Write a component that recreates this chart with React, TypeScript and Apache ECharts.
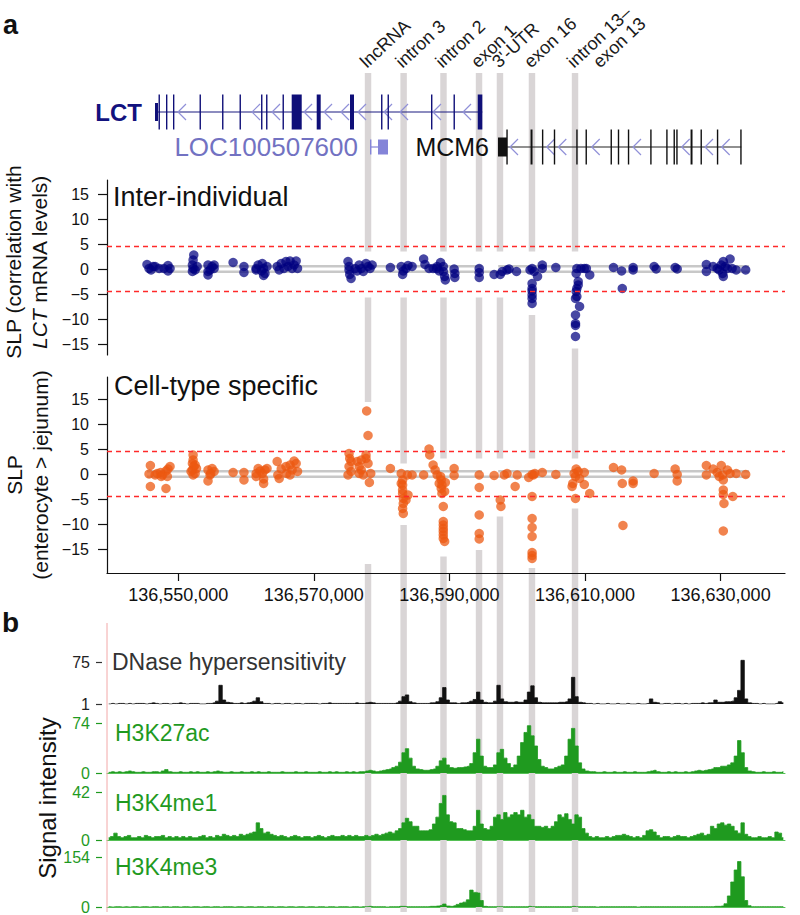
import React, { useEffect, useRef } from "react";
import * as echarts from "echarts";

const FONT = "'Liberation Sans', Arial, Helvetica, sans-serif";

// ---------- genomic window (kb) ----------
const X_MIN = 136539.5;
const X_MAX = 136639.5;
const xTickKb = [136550, 136570, 136590, 136610, 136630];
const slpTicks = [-15, -10, -5, 0, 5, 10, 15];
const slpThreshold = 4.5;
const geneBodyOffset = 0.55;

// ---------- highlighted regions ----------
const bandKb = [136578.0, 136583.25, 136589.13, 136594.37, 136597.46, 136602.18, 136608.53];
const bandNames = ["lncRNA", "intron 3", "intron 2", "exon 1", "3'-UTR", "exon 16", "intron 13–\nexon 13"];
const bandGapInter = [[3.5, -5.7], [3.5, -5.7], [3.5, -5.7], [3.5, -5.7], [3.5, -5.7], [3.5, -9.2], [3.5, -15.9]];
const bandGapCell = [[14.4, -18.0], [2.1, -10.2], [3.1, -16.5], [3.1, -15.2], [3.1, -8.5], [3.1, -18.8], [3.1, -6.9]];

// gene-body guide lines under the points
const geneBodyUpperKb = [[136545.4, 136594.8], [136597.2, 136634.2]];
const geneBodyLowerKb = [[136545.4, 136634.2]];

// ---------- gene models (kb; third field 1 = coding exon, 0 = UTR) ----------
const lctExons = [
  [136546.58, 136547.02, 0], [136547.10, 136547.25, 1], [136548.20, 136548.35, 1], [136549.23, 136549.38, 1],
  [136553.15, 136553.30, 1], [136556.47, 136556.62, 1], [136559.05, 136559.20, 1], [136562.22, 136562.37, 1],
  [136562.96, 136563.11, 1], [136565.39, 136565.54, 1], [136566.74, 136568.22, 1], [136570.43, 136571.02, 1],
  [136575.34, 136575.93, 1], [136579.92, 136580.07, 1], [136580.88, 136581.03, 1], [136587.29, 136587.44, 1],
  [136590.61, 136590.76, 1], [136594.18, 136594.86, 1],
];
const lctChevrons = [136549.97, 136560.89, 136563.84, 136568.56, 136571.51, 136574.01, 136576.52, 136580.36, 136582.72, 136587.58, 136592.01];
const locExons = [[136578.29, 136578.50, 0], [136579.47, 136580.95, 0]];
const locChevrons: number[] = [];
const mcm6Exons = [
  [136597.17, 136598.50, 0], [136598.40, 136598.55, 1], [136601.97, 136602.26, 1], [136603.65, 136603.80, 1],
  [136605.40, 136605.55, 1], [136608.71, 136608.86, 1], [136610.08, 136610.23, 1], [136613.77, 136613.92, 1],
  [136614.84, 136614.99, 1], [136616.32, 136616.47, 1], [136619.62, 136619.77, 1], [136621.98, 136622.13, 1],
  [136623.06, 136623.21, 1], [136623.46, 136623.61, 1], [136625.57, 136625.86, 1], [136627.04, 136627.19, 1],
  [136629.45, 136629.60, 1], [136632.90, 136633.05, 1],
];
const mcm6Chevrons = [136598.94, 136604.35, 136606.06, 136610.99, 136617.08, 136624.26, 136627.70, 136630.16];

// ---------- SLP: inter-individual (kb, SLP) ----------
const interData = [
  [136545.4, 0.9], [136545.7, 0.1], [136546.0, -0.2], [136546.3, 0.5], [136546.6, 0.5], [136547.2, 0.1], [136547.9, 0.1], [136548.5, 0.7], [136548.8, 0.1], [136548.5, -0.4],
  [136552.3, 2.8], [136552.2, 1.8], [136552.1, 0.8], [136552.2, 0.1], [136552.1, -0.5], [136552.8, 0.5], [136552.5, -0.2],
  [136554.4, 0.8], [136554.4, -0.5], [136554.4, -1.2], [136555.0, 0.5], [136555.3, 0.8], [136554.7, -0.2], [136555.3, 0.1],
  [136558.1, 1.3], [136559.7, 0.5], [136559.7, -0.7],
  [136561.5, 0.1], [136561.8, 0.8], [136562.4, 1.1], [136562.6, 0.1], [136562.8, -0.9], [136562.3, -0.4], [136563.1, 0.5], [136562.6, -1.3], [136561.5, -0.2],
  [136564.6, 0.5], [136564.9, -0.2], [136565.2, 1.1], [136565.9, 1.5], [136566.2, 0.5], [136566.5, 1.6], [136567.1, 0.8], [136567.4, 1.6], [136567.6, 0.1], [136566.8, 0.1], [136565.6, 0.1],
  [136575.05, 1.5], [136575.2, 0.5], [136575.2, -0.2], [136575.3, -1.1], [136575.5, -1.9], [136576.1, 0.1], [136576.7, 0.8], [136577.0, 0.1], [136577.7, 1.1], [136578.0, 0.5], [136578.3, 0.1], [136577.3, -0.5], [136576.4, -0.4], [136578.6, 0.8],
  [136581.3, 0.3],
  [136582.9, 0.5], [136583.2, -0.4], [136583.6, 0.1], [136583.9, 0.7], [136584.5, 0.5], [136583.1, -1.1],
  [136586.2, 2.0], [136586.4, 0.9], [136587.0, 0.1], [136587.6, 0.1], [136588.2, 0.5], [136588.7, 1.3], [136589.1, 0.5], [136589.1, -0.5], [136589.3, -1.5], [136589.4, -2.2], [136590.7, 0], [136590.8, -0.9], [136590.8, -1.7], [136588.5, -0.4], [136588.1, 0.1],
  [136594.4, 0.1], [136594.4, -0.7], [136594.4, -1.7],
  [136596.6, -1.1], [136597.5, -1.1], [136597.8, -0.5], [136598.5, -0.2], [136598.8, 0], [136599.9, -0.5], [136601.9, -0.2], [136602.2, 0.1], [136602.5, -0.5], [136603.0, -1.5], [136603.7, 0.8], [136603.7, 0.1], [136605.7, 0.3],
  [136602.2, -2.9], [136602.2, -3.9], [136602.2, -4.4], [136602.2, -5.2], [136602.2, -5.9], [136602.2, -6.9],
  [136608.8, 0.1], [136609.4, 0.1], [136608.7, -0.9], [136609.0, -2.5], [136609.0, -3.2], [136608.8, -3.9], [136608.7, -4.5], [136608.8, -5.5], [136608.6, -5.9], [136609.2, -7.5], [136608.6, -9.2], [136608.6, -10.9], [136608.6, -11.3], [136608.6, -13.5], [136609.9, 0.1], [136610.7, -1.2], [136610.2, 0.1],
  [136614.2, 0.3], [136615.4, -0.4], [136615.5, -3.9], [136617.1, 0.3], [136617.1, -0.2], [136620.2, 0.5], [136620.5, 0], [136623.3, 0.3], [136623.6, 0],
  [136627.9, 0.9], [136627.9, -0.5], [136628.9, 0.5], [136629.5, 0.1], [136629.8, -0.2], [136630.1, 0.8], [136630.4, 1.5], [136630.7, 0.5], [136630.4, -1.5], [136631.0, 0.1], [136631.4, 2.0], [136631.7, 0.1], [136632.3, -0.2], [136633.7, -0.2], [136630.3, -0.9],
];

// ---------- SLP: cell-type specific (kb, SLP) ----------
const cellData = [
  [136545.9, 1.7], [136545.7, 0], [136545.9, -2.5], [136546.6, -0.2], [136546.9, 0.1], [136547.4, 0.3], [136547.7, -0.2], [136548.2, 0.6], [136548.2, -2.9], [136548.5, 1.0], [136548.8, 1.5], [136548.4, -0.5], [136547.5, -0.5],
  [136552.2, 3.8], [136552.2, 2.8], [136552.1, 2.1], [136552.3, 1.5], [136552.1, 0.8], [136552.2, -0.2], [136552.5, 0.1], [136552.7, 1.1], [136551.9, 0.5], [136552.5, 1.8],
  [136554.4, 0.8], [136554.4, -1.4], [136554.7, -0.2], [136555.0, 1.1], [136555.3, 0.5], [136554.8, 0.1],
  [136558.1, 0.3], [136559.7, 0.3], [136559.7, -1.2],
  [136561.5, 0.1], [136561.8, 1.1], [136562.1, 0.6], [136562.4, 0.1], [136562.6, -1.0], [136562.6, -1.9], [136562.8, 0.8], [136563.1, 1.1], [136561.5, -0.5],
  [136564.6, 2.5], [136564.7, -0.2], [136564.9, -0.9], [136565.2, 1.0], [136565.9, 1.5], [136566.0, 0.1], [136566.5, 1.8], [136566.8, 0.8], [136567.1, 2.6], [136567.4, 2.1], [136567.6, 0.5], [136566.5, -0.2],
  [136575.2, 4.1], [136575.3, 3.1], [136575.5, 2.5], [136575.2, 1.5], [136575.05, -0.2], [136575.5, 0.5], [136576.4, 2.5], [136576.7, 1.5], [136577.0, 0.8], [136577.3, -0.2], [136577.7, 3.8], [136577.7, 3.1], [136577.8, 12.6], [136578.0, 7.7], [136578.0, 2.1], [136578.2, -1.7], [136578.4, 0.1], [136577.0, 2.8], [136576.7, 0.1],
  [136581.3, 1.1],
  [136582.9, 0.1], [136583.1, -1.2], [136583.1, -2.2], [136583.1, -3.2], [136583.1, -3.9], [136583.2, -4.9], [136583.2, -5.9], [136583.1, -6.9], [136583.2, -7.9], [136583.6, -5.2], [136583.8, -0.2], [136583.9, -4.2], [136584.5, -0.2], [136582.9, -1.9],
  [136586.2, -0.2], [136587.0, 5.0], [136587.1, 3.8], [136587.6, 1.8], [136587.9, 0.8], [136588.2, -0.2], [136588.7, -0.5], [136588.8, -1.2], [136588.5, -1.9], [136588.8, -2.9], [136588.9, -3.9], [136589.1, -6.5], [136589.1, -9.5], [136589.1, -10.2], [136589.1, -10.9], [136589.1, -11.5], [136589.1, -12.2], [136589.1, -12.9], [136589.3, -13.5], [136589.4, -1.7], [136590.7, 1.1], [136590.7, -0.3], [136588.9, -2.2], [136589.3, -3.5],
  [136594.4, -0.2], [136594.4, -2.7], [136594.4, -8.2], [136594.4, -11.9], [136594.4, -13.0],
  [136596.6, -0.3], [136597.5, -5.2], [136597.6, -6.5], [136598.1, -0.2], [136598.5, 0.1], [136599.7, -2.5], [136600.0, -0.2], [136601.7, -0.7], [136602.2, -0.1], [136602.2, -4.5], [136602.2, -8.9], [136602.2, -10.7], [136602.2, -12.5], [136602.2, -15.7], [136602.2, -16.3], [136602.2, -16.9], [136602.4, -0.2], [136602.6, 0.1], [136603.7, 0.3], [136605.7, -0.1],
  [136608.4, 0.1], [136608.6, -0.5], [136608.7, 1.0], [136609.0, 0.5], [136608.2, -1.9], [136608.1, -2.5], [136608.6, -4.9], [136609.9, 0.3], [136609.9, -2.1], [136610.7, -3.9], [136609.2, -0.9],
  [136614.2, 1.3], [136615.4, 0.8], [136615.5, -1.9], [136617.1, -1.4], [136617.1, -1.9], [136615.6, -10.3], [136620.2, 0.1], [136623.3, 1.0], [136623.6, -0.1], [136623.6, -1.4],
  [136627.9, 1.7], [136627.9, -0.2], [136628.9, 1.0], [136629.5, 0.3], [136630.1, 1.7], [136630.3, -0.2], [136630.4, -1.2], [136630.4, -3.2], [136630.4, -4.1], [136630.5, -5.9], [136630.4, -11.4], [136631.0, 0.8], [136631.4, 0.1], [136631.8, -4.5], [136632.3, 0.1], [136633.7, -0.1], [136629.8, -0.5],
];

// ---------- signal tracks: 0.5 kb bins starting at X_MIN ----------
const binSizeKb = 0.5;
const dnase = [
  1, 2, 1, 2, 2, 1, 2, 1, 2, 2, 2, 1, 2, 3, 2, 1, 2, 2, 1, 2,
  2, 3, 2, 1, 2, 2, 2, 1, 1, 2, 2, 3, 6, 34, 8, 4, 3, 2, 2, 3,
  2, 3, 4, 6, 12, 5, 2, 2, 1, 2, 2, 1, 2, 2, 1, 2, 2, 1, 2, 2,
  2, 2, 1, 2, 2, 3, 2, 2, 2, 2, 2, 2, 2, 3, 2, 2, 3, 4, 3, 2,
  2, 2, 2, 2, 2, 3, 6, 14, 17, 5, 3, 2, 2, 2, 2, 3, 3, 5, 12, 30,
  8, 3, 3, 2, 3, 3, 4, 6, 9, 22, 8, 4, 3, 3, 6, 34, 10, 5, 4, 4,
  5, 4, 4, 8, 22, 33, 12, 4, 3, 3, 3, 3, 3, 4, 4, 5, 10, 48, 14, 4,
  3, 2, 2, 1, 2, 1, 1, 2, 1, 1, 2, 1, 1, 2, 1, 1, 2, 1, 1, 2,
  10, 4, 3, 1, 2, 2, 1, 2, 2, 1, 2, 1, 2, 2, 2, 3, 2, 3, 3, 8,
  4, 4, 5, 5, 6, 12, 25, 78, 10, 3, 2, 2, 1, 2, 1, 1, 1, 2, 5, 3,
];
const h3k27ac = [
  1, 2, 1, 2, 1, 2, 3, 2, 1, 1, 2, 1, 1, 2, 2, 1, 3, 5, 2, 1,
  1, 2, 1, 1, 2, 1, 2, 1, 1, 2, 1, 2, 3, 2, 1, 1, 2, 1, 1, 2,
  1, 1, 2, 1, 2, 1, 1, 2, 1, 1, 1, 2, 1, 1, 1, 2, 1, 1, 2, 1,
  1, 1, 2, 1, 1, 2, 1, 2, 1, 1, 2, 1, 2, 1, 2, 2, 3, 4, 3, 2,
  3, 4, 5, 6, 8, 10, 16, 30, 36, 22, 10, 6, 5, 4, 4, 5, 6, 10, 18, 22,
  12, 8, 7, 8, 8, 9, 10, 14, 30, 50, 25, 10, 8, 8, 12, 30, 35, 22, 14, 8,
  12, 25, 45, 60, 70, 55, 40, 20, 10, 8, 6, 6, 8, 10, 12, 25, 50, 66, 40, 15,
  6, 3, 2, 2, 1, 1, 2, 1, 1, 2, 1, 1, 2, 1, 1, 2, 1, 1, 1, 2,
  3, 4, 2, 1, 1, 2, 1, 2, 1, 1, 2, 1, 2, 3, 4, 3, 4, 5, 6, 8,
  8, 10, 10, 12, 15, 25, 48, 30, 8, 3, 2, 1, 1, 2, 1, 1, 2, 1, 1, 2,
];
const h3k4me1 = [
  2, 3, 6, 3, 2, 3, 4, 2, 2, 3, 2, 4, 3, 2, 3, 3, 4, 2, 3, 2,
  3, 2, 3, 2, 3, 2, 2, 3, 4, 2, 3, 2, 4, 3, 5, 4, 3, 4, 3, 5,
  4, 5, 6, 7, 15, 10, 6, 7, 5, 4, 3, 4, 3, 2, 3, 4, 3, 2, 3, 3,
  2, 3, 4, 3, 2, 3, 4, 3, 3, 4, 3, 4, 3, 4, 3, 3, 4, 3, 4, 5,
  4, 5, 6, 7, 6, 8, 10, 15, 19, 16, 12, 12, 8, 8, 8, 9, 14, 20, 32, 39,
  22, 16, 15, 10, 10, 9, 8, 8, 12, 26, 14, 10, 9, 12, 20, 22, 18, 24, 20, 22,
  24, 22, 26, 20, 22, 18, 12, 12, 11, 12, 10, 12, 16, 22, 20, 23, 18, 14, 22, 20,
  10, 6, 3, 2, 3, 2, 2, 3, 2, 3, 4, 4, 5, 4, 3, 2, 3, 2, 4, 8,
  9, 7, 4, 2, 3, 3, 2, 3, 4, 3, 3, 2, 3, 4, 5, 6, 4, 5, 12, 10,
  14, 15, 13, 14, 12, 8, 6, 15, 5, 3, 2, 2, 3, 2, 2, 3, 2, 7, 6, 2,
];
const h3k4me3 = [
  1, 0, 1, 1, 0, 1, 0, 1, 1, 0, 1, 1, 0, 1, 1, 0, 1, 1, 0, 1,
  1, 0, 1, 1, 0, 1, 1, 0, 1, 1, 0, 1, 1, 0, 1, 1, 1, 0, 1, 1,
  0, 1, 1, 0, 1, 1, 0, 1, 1, 0, 1, 1, 0, 1, 1, 0, 1, 1, 0, 1,
  1, 0, 1, 1, 0, 1, 1, 0, 1, 1, 1, 0, 1, 1, 0, 1, 1, 2, 1, 1,
  1, 1, 0, 1, 1, 1, 2, 2, 1, 1, 1, 1, 1, 1, 1, 2, 2, 3, 5, 9,
  3, 2, 4, 8, 12, 15, 22, 52, 45, 43, 20, 2, 1, 1, 1, 1, 1, 1, 1, 1,
  1, 1, 1, 1, 2, 1, 1, 1, 1, 1, 1, 1, 1, 1, 1, 1, 1, 2, 1, 1,
  1, 1, 1, 1, 0, 1, 1, 1, 1, 1, 1, 1, 1, 1, 1, 1, 0, 1, 1, 1,
  1, 1, 1, 1, 1, 1, 1, 1, 1, 1, 1, 1, 1, 1, 1, 1, 1, 1, 1, 2,
  2, 3, 10, 34, 77, 114, 140, 93, 20, 4, 1, 1, 1, 1, 1, 1, 1, 1, 1, 1,
];
const trackNames = ["DNase hypersensitivity", "H3K27ac", "H3K4me1", "H3K4me3"];
const trackValues = [dnase, h3k27ac, h3k4me1, h3k4me3];
const trackTicks = [[1, 75], [0, 74], [0, 42], [0, 154]];

// ---------- layout / style (pixels) ----------
const GL = 107;
const GR = 15;
const GREEN = "#1f9a1f";
const trackLayout = [
  { top: 659.2, height: 44.8, min: 1, max: 80, color: "#111", label: "#333", labelY: 661.7, labelX: 112, fontSize: 23 },
  { top: 723, height: 50, min: 0, max: 74, color: GREEN, label: GREEN, labelY: 733.3, labelX: 115, fontSize: 23 },
  { top: 792, height: 48, min: 0, max: 42, color: GREEN, label: GREEN, labelY: 803, labelX: 115, fontSize: 23 },
  { top: 857, height: 50, min: 0, max: 154, color: GREEN, label: GREEN, labelY: 866.7, labelX: 115, fontSize: 23 },
];

const genes = [
  { name: "LCT", row: 2, exons: lctExons, chevrons: lctChevrons, lineColor: "#1b1b80", exonColor: "#0f0f78", chev: "#9090d8", labelColor: "#12127e", weight: "bold", size: 24, gap: 13, utrHalf: 9 },
  { name: "LOC100507600", row: 1, exons: locExons, chevrons: locChevrons, lineColor: "#8484d8", exonColor: "#8484d8", chev: "#9090d8", labelColor: "#7272c2", weight: "normal", size: 26, gap: 12, utrHalf: 7.5 },
  { name: "MCM6", row: 1, exons: mcm6Exons, chevrons: mcm6Chevrons, lineColor: "#222", exonColor: "#111", chev: "#9090d8", labelColor: "#111", weight: "normal", size: 25, gap: 9, utrHalf: 9.5 },
];

const fmtBp = (v: number) => String(Math.round(v * 1000)).replace(/\B(?=(\d{3})+(?!\d))/g, ",");
const fmtMinus = (v: number) => String(v).replace("-", "\u2212");

function renderBand(params: any, api: any) {
  const i = params.dataIndex;
  const kb = bandKb[i];
  const top = api.coord([kb, 1]);
  const bot = api.coord([kb, 0]);
  const w = api.size([0.95, 0])[0];
  const children: any[] = [
    { type: "rect", shape: { x: top[0] - w / 2, y: top[1], width: w, height: bot[1] - top[1] }, style: { fill: "#d9d5d6" } },
  ];
  bandNames[i].split("\n").forEach((t, k) => {
    children.push({
      type: "text",
      x: top[0] + 1 + k * 26,
      y: top[1] - 2,
      rotation: 0.75,
      style: { text: t, fill: "#1a1a1a", fontSize: 18, fontFamily: FONT, align: "left", verticalAlign: "bottom" },
    });
  });
  return { type: "group", children };
}

function renderGap(gaps: number[][]) {
  return (params: any, api: any) => {
    const i = params.dataIndex;
    const a = api.coord([bandKb[i] - 0.6, gaps[i][0]]);
    const b = api.coord([bandKb[i] + 0.6, gaps[i][1]]);
    return { type: "rect", shape: { x: a[0], y: a[1], width: b[0] - a[0], height: b[1] - a[1] }, style: { fill: "#fff" } };
  };
}

function renderGene(params: any, api: any) {
  const g = genes[params.dataIndex];
  const y = api.coord([X_MIN, g.row])[1];
  const start = Math.min(...g.exons.map((e) => e[0]));
  const end = Math.max(...g.exons.map((e) => e[1]));
  const xs = api.coord([start, g.row])[0];
  const xe = api.coord([end, g.row])[0];
  const children: any[] = [
    { type: "line", shape: { x1: xs, y1: y, x2: xe, y2: y }, style: { stroke: g.lineColor, lineWidth: 1.2 } },
  ];
  g.chevrons.forEach((c) => {
    const cx = api.coord([c, g.row])[0];
    children.push({
      type: "polyline",
      shape: { points: [[cx + 8, y - 8], [cx, y], [cx + 8, y + 8]] },
      style: { stroke: g.chev, lineWidth: 1.2, fill: null },
    });
  });
  g.exons.forEach((e) => {
    const x1 = api.coord([e[0], g.row])[0];
    const x2 = api.coord([e[1], g.row])[0];
    const h = e[2] ? 17.5 : g.utrHalf;
    children.push({ type: "rect", shape: { x: x1, y: y - h, width: Math.max(1.4, x2 - x1), height: 2 * h }, style: { fill: g.exonColor } });
  });
  children.push({
    type: "text",
    x: xs - g.gap,
    y: y,
    style: { text: g.name, fill: g.labelColor, fontSize: g.size, fontWeight: g.weight, fontFamily: FONT, align: "right", verticalAlign: "middle" },
  });
  return { type: "group", children };
}

function buildOption(): any {
  const grids: any[] = [
    { left: GL, right: GR, top: 73, bottom: 3 },
    { left: GL, right: GR, top: 77, height: 105 },
    { left: GL, right: GR, top: 180, height: 175 },
    { left: GL, right: GR, top: 377, height: 196 },
    ...trackLayout.map((t) => ({ left: GL, right: GR, top: t.top, height: t.height })),
  ];
  const xAxes: any[] = grids.map((_, i) => ({ type: "value", gridIndex: i, min: X_MIN, max: X_MAX, show: false }));
  xAxes[3] = {
    type: "value", gridIndex: 3, min: X_MIN, max: X_MAX, show: true, z: 10,
    axisLine: { show: true, onZero: false, lineStyle: { color: "#111", width: 1.2 } },
    axisTick: { show: true, length: 8, customValues: xTickKb, lineStyle: { color: "#111", width: 1.2 } },
    axisLabel: { show: true, customValues: xTickKb, formatter: fmtBp, fontSize: 18, fontFamily: FONT, color: "#111", margin: 13 },
    splitLine: { show: false },
  };
  for (let k = 1; k < 4; k++) {
    xAxes[4 + k] = {
      type: "value", gridIndex: 4 + k, min: X_MIN, max: X_MAX, show: true,
      axisLine: { show: true, onZero: false, lineStyle: { color: "#55c055", width: 1 } },
      axisTick: { show: false }, axisLabel: { show: false }, splitLine: { show: false },
    };
  }
  const slpAxis = (gi: number, min: number, max: number) => ({
    type: "value", gridIndex: gi, min, max,
    axisLine: { show: true, lineStyle: { color: "#111", width: 1.2 } },
    axisTick: { show: true, length: 9, customValues: slpTicks, lineStyle: { color: "#111", width: 1.2 } },
    axisLabel: { show: true, customValues: slpTicks, formatter: fmtMinus, fontSize: 16, fontFamily: FONT, color: "#111", margin: 18 },
    splitLine: { show: false },
  });
  const yAxes: any[] = [
    { type: "value", gridIndex: 0, min: 0, max: 1, show: false },
    { type: "value", gridIndex: 1, min: 0, max: 3, show: false },
    slpAxis(2, -17.2, 17.8),
    slpAxis(3, -19.8, 19.4),
    ...trackLayout.map((t, k) => ({
      type: "value", gridIndex: 4 + k, min: t.min, max: t.max, offset: 5,
      axisLine: { show: false },
      axisTick: { show: true, length: 6, customValues: trackTicks[k], lineStyle: { color: t.label, width: 1.2 } },
      axisLabel: { show: true, customValues: trackTicks[k], fontSize: 16, fontFamily: FONT, color: k === 0 ? "#222" : GREEN, margin: 12 },
      splitLine: { show: false },
    })),
  ];

  const series: any[] = [
    {
      type: "custom", name: "regions", xAxisIndex: 0, yAxisIndex: 0, z: 1, silent: true, clip: false,
      data: bandKb.map((p) => [p, 0.5]), renderItem: renderBand,
    },
    {
      type: "custom", name: "genes", xAxisIndex: 1, yAxisIndex: 1, z: 5, silent: true, clip: false,
      data: genes.map((g, i) => [X_MIN, g.row, i]), renderItem: renderGene,
    },
    {
      type: "custom", name: "gapInter", xAxisIndex: 2, yAxisIndex: 2, z: 2, silent: true,
      data: bandKb.map((p, i) => [p, bandGapInter[i][0], bandGapInter[i][1]]), renderItem: renderGap(bandGapInter),
    },
    {
      type: "custom", name: "gapCell", xAxisIndex: 3, yAxisIndex: 3, z: 2, silent: true,
      data: bandKb.map((p, i) => [p, bandGapCell[i][0], bandGapCell[i][1]]), renderItem: renderGap(bandGapCell),
    },
  ];
  [2, 3].forEach((gi) => {
    geneBodyUpperKb.forEach((s) =>
      series.push({ type: "line", xAxisIndex: gi, yAxisIndex: gi, z: 3, silent: true, symbol: "none", data: [[s[0], geneBodyOffset], [s[1], geneBodyOffset]], lineStyle: { color: "#c8c8c8", width: 2.5 } })
    );
    geneBodyLowerKb.forEach((s) =>
      series.push({ type: "line", xAxisIndex: gi, yAxisIndex: gi, z: 3, silent: true, symbol: "none", data: [[s[0], -geneBodyOffset], [s[1], -geneBodyOffset]], lineStyle: { color: "#c8c8c8", width: 2.5 } })
    );
  });
  const thresholdLine = {
    silent: true, symbol: "none", label: { show: false },
    lineStyle: { color: "#ff2a2a", type: [5, 4], width: 1.3 },
    data: [{ yAxis: slpThreshold }, { yAxis: -slpThreshold }],
  };
  series.push({
    type: "scatter", name: "Inter-individual", xAxisIndex: 2, yAxisIndex: 2, z: 4, data: interData, symbolSize: 9.5,
    itemStyle: { color: "#000080", opacity: 0.72 }, markLine: thresholdLine,
  });
  series.push({
    type: "scatter", name: "Cell-type specific", xAxisIndex: 3, yAxisIndex: 3, z: 4, data: cellData, symbolSize: 9.5,
    itemStyle: { color: "#ec5810", opacity: 0.74 }, markLine: thresholdLine,
  });
  trackValues.forEach((vals, k) => {
    const t = trackLayout[k];
    series.push({
      type: "line", name: trackNames[k], xAxisIndex: 4 + k, yAxisIndex: 4 + k, z: 3, silent: true,
      symbol: "none", step: "middle",
      data: vals.map((v, i) => [X_MIN + (i + 0.5) * binSizeKb, Math.max(v, t.min)]),
      lineStyle: { color: t.color, width: 0.8 },
      areaStyle: { color: t.color, opacity: 1, origin: "start" },
    });
  });

  const txt = (text: string, x: number, y: number, size: number, extra: any = {}) => ({
    type: "text", x, y, silent: true, z: 20,
    style: { text, fill: "#111", fontSize: size, fontFamily: FONT, align: "left", verticalAlign: "middle", ...extra },
  });
  const graphic: any[] = [
    txt("a", 3, 24.5, 27, { fontWeight: "bold" }),
    txt("b", 2, 622.5, 28, { fontWeight: "bold" }),
    txt("Inter-individual", 113, 196.5, 27),
    txt("Cell-type specific", 114, 386, 27),
    {
      type: "text", x: 26, y: 262, rotation: Math.PI / 2, silent: true, z: 20,
      style: {
        text: "SLP (correlation with\n{it|LCT} mRNA levels)", fill: "#111", fontSize: 21, fontFamily: FONT,
        align: "center", verticalAlign: "middle", lineHeight: 26,
        rich: { it: { fontStyle: "italic", fontSize: 21, fontFamily: FONT, fill: "#111", lineHeight: 26 } },
      },
    },
    {
      type: "text", x: 27, y: 475, rotation: Math.PI / 2, silent: true, z: 20,
      style: { text: "SLP\n(enterocyte > jejunum)", fill: "#111", fontSize: 21, fontFamily: FONT, align: "center", verticalAlign: "middle", lineHeight: 26 },
    },
    {
      type: "text", x: 47, y: 798, rotation: Math.PI / 2, silent: true, z: 20,
      style: { text: "Signal intensity", fill: "#111", fontSize: 24, fontFamily: FONT, align: "center", verticalAlign: "middle" },
    },
    { type: "line", silent: true, z: 20, shape: { x1: 107, y1: 623, x2: 107, y2: 912 }, style: { stroke: "#f2a8a8", lineWidth: 1 } },
    ...trackLayout.map((t, k) => txt(trackNames[k], t.labelX, t.labelY, t.fontSize, { fill: t.label })),
  ];

  return { animation: false, backgroundColor: "#fff", grid: grids, xAxis: xAxes, yAxis: yAxes, series, graphic };
}

export default function App() {
  const ref = useRef<HTMLDivElement>(null);
  useEffect(() => {
    if (!ref.current) return;
    const chart = echarts.init(ref.current, undefined, { renderer: "svg" });
    chart.setOption(buildOption());
    return () => chart.dispose();
  }, []);
  return <div ref={ref} style={{ position: "absolute", left: 0, top: 0, width: 800, height: 915, background: "#fff" }} />;
}
